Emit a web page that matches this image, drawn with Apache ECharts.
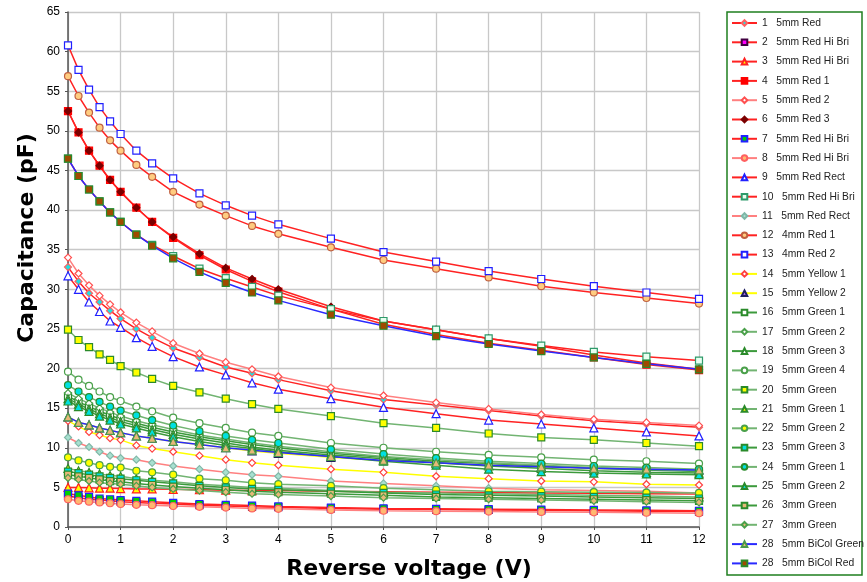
<!DOCTYPE html>
<html>
<head>
<meta charset="utf-8">
<script src="https://cdn.jsdelivr.net/npm/echarts@6/dist/echarts.min.js"></script>
<style>
  html, body { margin: 0; padding: 0; background: #fff; }
  #chart { width: 867px; height: 582px; }
</style>
</head>
<body>
<div id="chart"></div>
<script>
// reverse voltage points (V)
const voltages = [0, 0.2, 0.4, 0.6, 0.8, 1, 1.3, 1.6, 2, 2.5, 3, 3.5, 4, 5, 6, 7, 8, 9, 10, 11, 12];

const names = [
  '1   5mm Red', '2   5mm Red Hi Bri', '3   5mm Red Hi Bri', '4   5mm Red 1', '5   5mm Red 2',
  '6   5mm Red 3', '7   5mm Red Hi Bri', '8   5mm Red Hi Bri', '9   5mm Red Rect', '10   5mm Red Hi Bri',
  '11   5mm Red Rect', '12   4mm Red 1', '13   4mm Red 2', '14   5mm Yellow 1', '15   5mm Yellow 2',
  '16   5mm Green 1', '17   5mm Green 2', '18   5mm Green 3', '19   5mm Green 4', '20   5mm Green',
  '21   5mm Green 1', '22   5mm Green 2', '23   5mm Green 3', '24   5mm Green 1', '25   5mm Green 2',
  '26   3mm Green', '27   3mm Green', '28   5mm BiCol Green', '28   5mm BiCol Red'
];

// capacitance (pF), one array per LED
const c01 = [32.8, 31.0, 29.5, 28.4, 27.3, 26.3, 25.0, 23.9, 22.6, 21.4, 20.2, 19.4, 18.6, 17.2, 16.1, 15.4, 14.7, 14.0, 13.4, 13.0, 12.6];
const c02 = [3.9, 3.7, 3.5, 3.4, 3.3, 3.2, 3.1, 3.0, 2.9, 2.75, 2.65, 2.55, 2.5, 2.35, 2.25, 2.2, 2.15, 2.1, 2.05, 2.0, 1.95];
const c03 = [5.0, 5.0, 4.95, 4.9, 4.9, 4.85, 4.8, 4.8, 4.75, 4.7, 4.65, 4.6, 4.6, 4.5, 4.45, 4.4, 4.35, 4.3, 4.25, 4.2, 4.15];
const c04 = [52.5, 49.8, 47.5, 45.6, 43.8, 42.3, 40.3, 38.5, 36.5, 34.3, 32.5, 31.0, 29.7, 27.5, 25.6, 24.3, 23.2, 22.3, 21.4, 20.5, 19.8];
const c05 = [34.0, 32.0, 30.5, 29.2, 28.1, 27.1, 25.8, 24.7, 23.2, 21.9, 20.8, 19.9, 19.0, 17.6, 16.6, 15.7, 14.9, 14.2, 13.6, 13.2, 12.8];
const c06 = [52.5, 49.8, 47.5, 45.6, 43.8, 42.3, 40.3, 38.5, 36.6, 34.5, 32.7, 31.3, 30.0, 27.8, 26.0, 24.9, 23.8, 22.8, 21.7, 20.7, 19.9];
const c07 = [4.2, 4.0, 3.8, 3.6, 3.5, 3.4, 3.3, 3.2, 3.05, 2.9, 2.8, 2.7, 2.6, 2.45, 2.35, 2.3, 2.25, 2.2, 2.15, 2.1, 2.05];
const c08 = [3.5, 3.3, 3.2, 3.1, 3.0, 2.9, 2.8, 2.75, 2.65, 2.55, 2.45, 2.35, 2.3, 2.15, 2.05, 2.0, 1.95, 1.9, 1.85, 1.8, 1.75];
const c09 = [31.7, 30.0, 28.4, 27.2, 26.0, 25.2, 23.9, 22.8, 21.5, 20.2, 19.2, 18.2, 17.4, 16.2, 15.1, 14.3, 13.5, 13.0, 12.5, 12.0, 11.5];
const c10 = [46.5, 44.3, 42.6, 41.1, 39.7, 38.5, 36.9, 35.6, 34.2, 32.6, 31.4, 30.3, 29.2, 27.5, 26.0, 24.9, 23.8, 22.9, 22.1, 21.5, 21.0];
const c11 = [11.3, 10.6, 10.1, 9.5, 9.0, 8.7, 8.5, 8.1, 7.7, 7.3, 6.9, 6.6, 6.4, 5.8, 5.5, 5.2, 4.9, 4.7, 4.6, 4.5, 4.3];
const c12 = [56.9, 54.4, 52.3, 50.4, 48.8, 47.5, 45.7, 44.2, 42.3, 40.7, 39.3, 38.0, 37.0, 35.3, 33.7, 32.6, 31.5, 30.4, 29.6, 28.9, 28.2];
const c13 = [60.8, 57.7, 55.2, 53.0, 51.2, 49.6, 47.5, 45.9, 44.0, 42.1, 40.6, 39.3, 38.2, 36.4, 34.7, 33.5, 32.3, 31.3, 30.4, 29.6, 28.8];
const c14 = [13.4, 12.7, 12.0, 11.6, 11.2, 11.0, 10.3, 9.9, 9.5, 9.0, 8.5, 8.1, 7.8, 7.3, 6.9, 6.4, 6.1, 5.8, 5.7, 5.4, 5.3];
const c15 = [13.9, 13.2, 12.9, 12.5, 12.2, 11.9, 11.5, 11.2, 10.8, 10.4, 10.0, 9.6, 9.3, 8.8, 8.4, 8.1, 7.8, 7.6, 7.4, 7.3, 7.2];
const c16 = [16.5, 15.8, 15.2, 14.6, 14.1, 13.6, 13.1, 12.6, 12.0, 11.4, 10.9, 10.4, 10.0, 9.3, 8.8, 8.3, 8.0, 7.7, 7.4, 7.2, 7.0];
const c17 = [16.9, 16.2, 15.6, 15.0, 14.5, 14.0, 13.4, 12.9, 12.3, 11.6, 11.1, 10.6, 10.2, 9.5, 8.9, 8.5, 8.1, 7.8, 7.5, 7.3, 7.1];
const c18 = [16.2, 15.5, 14.9, 14.3, 13.8, 13.3, 12.8, 12.3, 11.7, 11.1, 10.6, 10.1, 9.7, 9.1, 8.6, 8.1, 7.7, 7.4, 7.1, 6.9, 6.8];
const c19 = [19.6, 18.6, 17.8, 17.1, 16.4, 15.9, 15.2, 14.6, 13.8, 13.1, 12.5, 11.9, 11.5, 10.6, 10.0, 9.5, 9.1, 8.8, 8.5, 8.3, 8.0];
const c20 = [24.9, 23.6, 22.7, 21.8, 21.1, 20.3, 19.5, 18.7, 17.8, 17.0, 16.2, 15.5, 14.9, 14.0, 13.1, 12.5, 11.8, 11.3, 11.0, 10.6, 10.2];
const c21 = [7.4, 7.1, 6.9, 6.7, 6.5, 6.4, 6.1, 5.9, 5.7, 5.4, 5.2, 5.0, 4.9, 4.6, 4.4, 4.3, 4.2, 4.1, 4.0, 3.9, 3.8];
const c22 = [8.8, 8.4, 8.1, 7.8, 7.6, 7.5, 7.1, 6.9, 6.6, 6.1, 5.9, 5.6, 5.4, 5.2, 4.9, 4.7, 4.5, 4.45, 4.4, 4.35, 4.3];
const c23 = [7.0, 6.8, 6.6, 6.4, 6.2, 6.1, 5.9, 5.7, 5.5, 5.2, 5.0, 4.8, 4.7, 4.5, 4.3, 4.1, 4.0, 3.9, 3.8, 3.7, 3.6];
const c24 = [17.9, 17.1, 16.4, 15.8, 15.2, 14.7, 14.1, 13.5, 12.8, 12.1, 11.5, 11.0, 10.6, 9.8, 9.2, 8.7, 8.3, 8.0, 7.7, 7.5, 7.3];
const c25 = [15.9, 15.2, 14.6, 14.0, 13.5, 13.0, 12.5, 12.0, 11.4, 10.8, 10.3, 9.9, 9.5, 8.9, 8.3, 7.8, 7.3, 7.0, 6.8, 6.7, 6.6];
const c26 = [6.6, 6.4, 6.2, 6.0, 5.8, 5.7, 5.5, 5.3, 5.1, 4.9, 4.7, 4.5, 4.4, 4.2, 4.0, 3.8, 3.7, 3.6, 3.5, 3.4, 3.3];
const c27 = [6.2, 6.0, 5.8, 5.6, 5.5, 5.4, 5.2, 5.0, 4.8, 4.6, 4.4, 4.2, 4.1, 3.9, 3.7, 3.6, 3.5, 3.4, 3.3, 3.2, 3.1];
const c28g = [13.9, 13.2, 12.9, 12.5, 12.2, 11.9, 11.5, 11.2, 10.8, 10.4, 10.0, 9.7, 9.4, 8.9, 8.4, 8.1, 7.8, 7.6, 7.4, 7.3, 7.2];
const c28r = [46.5, 44.3, 42.6, 41.1, 39.7, 38.5, 36.9, 35.5, 33.9, 32.2, 30.8, 29.6, 28.6, 26.8, 25.4, 24.1, 23.1, 22.2, 21.4, 20.6, 19.9];

const values = [c01, c02, c03, c04, c05, c06, c07, c08, c09, c10, c11, c12, c13, c14, c15,
  c16, c17, c18, c19, c20, c21, c22, c23, c24, c25, c26, c27, c28g, c28r];

const RED = '#ff2222', LRED = '#ff8080', GRN = '#3c9a3c', LGRN = '#72b472', YEL = '#ffff00', BLU = '#2a2aff';
const TAN = '#e8b878';

// [line colour, symbol, fill, border]
const styles = [
  [RED, 'diamond', '#20e0e0', '#ff6060'],
  [RED, 'rect', '#ff00ff', '#400040'],
  [RED, 'triangle', '#ffff00', '#ff2020'],
  [RED, 'rect', '#ff0000', '#ff0000'],
  [LRED, 'diamond', '#ffffff', '#ff5050'],
  [RED, 'diamond', '#7a0000', '#7a0000'],
  [RED, 'rect', '#00d000', '#2020ff'],
  [LRED, 'circle', '#ffb870', '#ff6060'],
  [RED, 'triangle', '#ffffff', '#2020ff'],
  [RED, 'rect', '#e8fff0', '#2e9a6a'],
  [LRED, 'diamond', '#a8e0d0', '#80b8a8'],
  [RED, 'circle', '#ffcc80', '#c06040'],
  [RED, 'rect', '#ffffff', '#2020ff'],
  [YEL, 'diamond', '#ffffff', '#ff4040'],
  [YEL, 'triangle', '#b070e0', '#202060'],
  [GRN, 'rect', '#ffffff', '#2a8a2a'],
  [LGRN, 'diamond', '#ffffff', '#4aa04a'],
  [GRN, 'triangle', '#ffffff', '#2a8a2a'],
  [LGRN, 'circle', '#ffffff', '#4aa04a'],
  [LGRN, 'rect', '#ffff00', '#2a8a2a'],
  [LGRN, 'triangle', '#ffff00', '#2a8a2a'],
  [LGRN, 'circle', '#ffff00', '#4aa04a'],
  [GRN, 'rect', '#00e0e0', '#2a8a2a'],
  [LGRN, 'circle', '#00e0e0', '#2a8a2a'],
  [GRN, 'triangle', '#00e0e0', '#2a8a2a'],
  [GRN, 'rect', TAN, '#2a8a2a'],
  [LGRN, 'diamond', TAN, '#4aa04a'],
  [BLU, 'triangle', TAN, '#4a9a4a'],
  [BLU, 'rect', '#a04a00', '#2a8a2a']
];

const series = values.map((vals, i) => {
  const s = styles[i];
  return {
    name: names[i],
    type: 'line',
    data: vals.map((v, k) => [voltages[k], v]),
    symbol: s[1],
    symbolSize: s[1] === 'triangle' ? 8 : 7,
    lineStyle: { color: s[0], width: 1.5 },
    itemStyle: { color: s[2], borderColor: s[3], borderWidth: 1.2 },
    emphasis: { disabled: true },
    animation: false
  };
});

const titleFont = { fontFamily: 'DejaVu Sans', fontWeight: 'bold', fontSize: 22, fill: '#000' };

const chart = echarts.init(document.getElementById('chart'));
chart.setOption({
  backgroundColor: '#ffffff',
  animation: false,
  grid: { left: 68, top: 12, right: 168, bottom: 55 },
  xAxis: {
    type: 'value', min: 0, max: 12, interval: 1,
    axisLine: { show: true, lineStyle: { color: '#555', width: 1.5 } },
    axisTick: { show: true, length: 3, lineStyle: { color: '#555' } },
    axisLabel: { fontFamily: 'Liberation Sans', fontSize: 12, color: '#000', margin: 7 },
    splitLine: { show: true, lineStyle: { color: '#c8c8c8', width: 1.3 } }
  },
  yAxis: {
    type: 'value', min: 0, max: 65, interval: 5,
    axisLine: { show: true, lineStyle: { color: '#555', width: 1.5 } },
    axisTick: { show: true, length: 3, lineStyle: { color: '#555' } },
    axisLabel: { fontFamily: 'Liberation Sans', fontSize: 12, color: '#000', margin: 8 },
    splitLine: { show: true, lineStyle: { color: '#c8c8c8', width: 1.3 } }
  },
  legend: {
    orient: 'vertical',
    left: 731, top: 16,
    itemWidth: 25, itemHeight: 7, itemGap: 5.3,
    padding: 0,
    textStyle: { fontFamily: 'Liberation Sans', fontSize: 10.3, color: '#222', lineHeight: 14 },
    selectedMode: false
  },
  graphic: [{
    type: 'rect',
    shape: { x: 727, y: 12, width: 135, height: 563 },
    style: { fill: 'none', stroke: '#1f7f1f', lineWidth: 1.5 },
    silent: true
  }, {
    type: 'text',
    x: 409, y: 569,
    style: Object.assign({ text: 'Reverse voltage (V)', align: 'center', verticalAlign: 'middle' }, titleFont),
    silent: true
  }, {
    type: 'text',
    x: 27, y: 238,
    rotation: Math.PI / 2,
    style: Object.assign({ text: 'Capacitance (pF)', align: 'center', verticalAlign: 'middle' }, titleFont),
    silent: true
  }],
  series: series
});
</script>
</body>
</html>
